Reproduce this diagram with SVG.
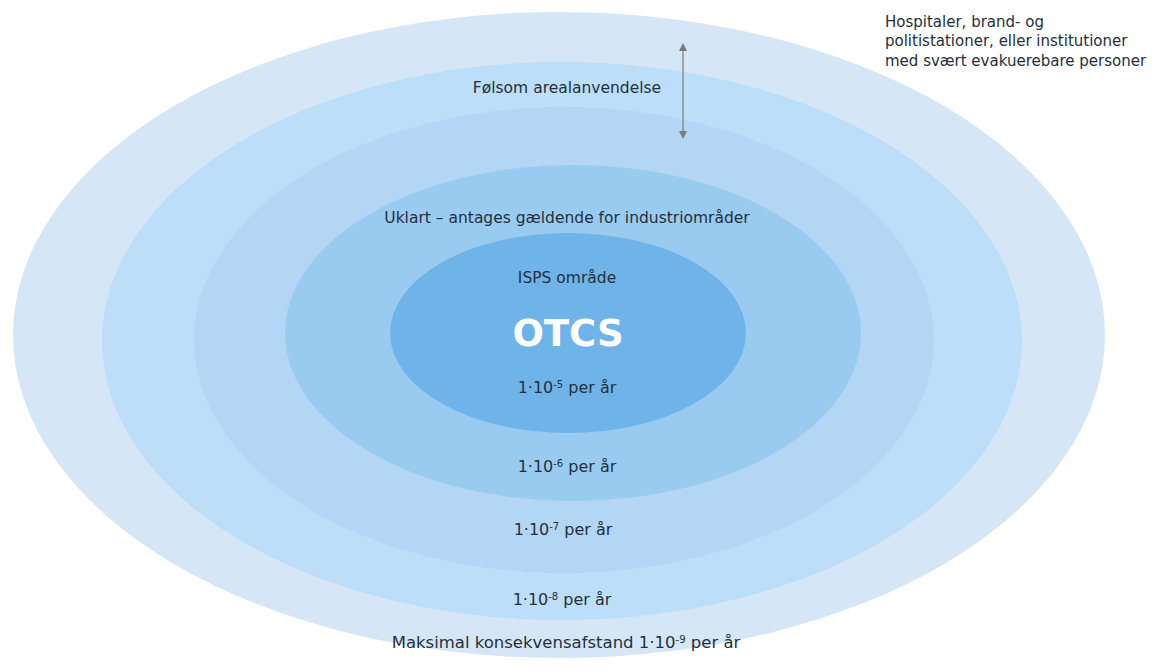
<svg xmlns="http://www.w3.org/2000/svg" width="1167" height="671" viewBox="0 0 1167 671">
<defs>
<style>
.t{font-family:"DejaVu Sans","Liberation Sans",sans-serif;font-size:15.5px;fill:#25303c;text-anchor:middle}
.r{font-size:16px}
.m{font-size:16.5px}
.n{font-family:"DejaVu Sans","Liberation Sans",sans-serif;font-size:15px;fill:#25303c}
.sup{font-size:10px}
.otcs{font-family:"DejaVu Sans","Liberation Sans",sans-serif;font-size:37px;font-weight:bold;fill:#ffffff;text-anchor:middle}
</style>
<marker id="ah" viewBox="0 0 10 10" refX="5" refY="5" markerWidth="8" markerHeight="8" orient="auto-start-reverse" markerUnits="userSpaceOnUse">
<path d="M0,0 L10,5 L0,10 z" fill="#7a7a7a"/>
</marker>
</defs>
<rect width="1167" height="671" fill="#ffffff"/>
<g id="ring-1e9"><ellipse cx="559" cy="335" rx="546" ry="323" fill="#d5e7f6"/></g>
<g id="ring-1e8"><ellipse cx="562" cy="341" rx="460" ry="279" fill="#bddef8"/></g>
<g id="ring-1e7"><ellipse cx="564" cy="340" rx="370" ry="233" fill="#b2d6f3"/></g>
<g id="ring-1e6"><ellipse cx="573" cy="333" rx="288" ry="168" fill="#99cbf0"/></g>
<g id="ring-otcs"><ellipse cx="568" cy="333" rx="178" ry="100" fill="#6fb4e9"/></g>
<g id="connectors">
<line x1="683" y1="47" x2="683" y2="135" stroke="#7a7a7a" stroke-width="1.2" marker-start="url(#ah)" marker-end="url(#ah)"/>
</g>
<g id="labels">
<text class="n" x="885" y="27">Hospitaler, brand- og</text>
<text class="n" x="885" y="46">politistationer, eller institutioner</text>
<text class="n" x="885" y="66">med svært evakuerebare personer</text>
<text class="t" x="567" y="93">Følsom arealanvendelse</text>
<text class="t" x="567" y="223">Uklart – antages gældende for industriområder</text>
<text class="t" x="567" y="283">ISPS område</text>
<text class="otcs" x="568" y="346">OTCS</text>
<text class="t r" x="567" y="393">1·10<tspan class="sup" baseline-shift="super">-5</tspan> per år</text>
<text class="t r" x="567" y="472">1·10<tspan class="sup" baseline-shift="super">-6</tspan> per år</text>
<text class="t r" x="563" y="535">1·10<tspan class="sup" baseline-shift="super">-7</tspan> per år</text>
<text class="t r" x="562" y="605">1·10<tspan class="sup" baseline-shift="super">-8</tspan> per år</text>
<text class="t m" x="566" y="648">Maksimal konsekvensafstand 1·10<tspan class="sup" baseline-shift="super">-9</tspan> per år</text>
</g>
</svg>
